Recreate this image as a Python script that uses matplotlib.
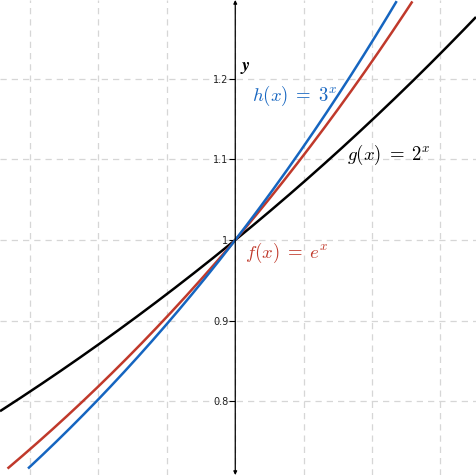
import numpy as np
import matplotlib
matplotlib.use('Agg')
import matplotlib.pyplot as plt

plt.rcParams['mathtext.fontset'] = 'cm'

# view window (GeoGebra-like)
x_min, x_max = -0.344, 0.352
y_min, y_max = 0.7088, 1.2974

# y tick values and labels
y_ticks = [0.8, 0.9, 1.0, 1.1, 1.2]
y_tick_labels = ['0.8', '0.9', '1', '1.1', '1.2']
x_grid = [-0.3, -0.2, -0.1, 0.0, 0.1, 0.2, 0.3]

# bases of the three exponential functions, domain of each drawn curve
bases = [2.0, np.e, 3.0]
domains = [(-0.344, 0.352), (-0.333, 0.259), (-0.303, 0.236)]
colors = ['black', '#C0392B', '#1565C0']
labels = [r'$g(x)\;=\;2^x$', r'$f(x)\;=\;e^x$', r'$h(x)\;=\;3^x$']
label_pos = [(0.164, 1.105), (0.014, 0.984), (0.024, 1.178)]

fig = plt.figure(figsize=(4.76, 4.75), dpi=100)
ax = fig.add_axes([0, 0, 1, 1])

for b, (a, c), col in zip(bases, domains, colors):
    xs = np.linspace(a, c, 300)
    ax.plot(xs, b ** xs, color=col, lw=1.8, solid_capstyle='butt', zorder=3)

for (tx, ty), lab, col in zip(label_pos, labels, colors):
    ax.text(tx, ty, lab, color=col, fontsize=13.5, ha='left', va='center')

ax.set_xlim(x_min, x_max)
ax.set_ylim(y_min, y_max)

# grid
ax.set_xticks(x_grid)
ax.set_yticks(y_ticks)
ax.set_yticklabels(y_tick_labels)
ax.grid(True, color='#d6d6d6', lw=0.9, linestyle=(0, (5, 4)))
ax.tick_params(axis='x', length=0, labelbottom=False)
ax.tick_params(axis='y', length=4, width=0.8, labelsize=7, pad=1,
               labelcolor='#222222')

for s in ['top', 'right', 'bottom']:
    ax.spines[s].set_visible(False)
ax.spines['left'].set_position(('data', 0))
ax.spines['left'].set_visible(False)

# y axis with arrows at both ends
ax.annotate('', xy=(0, y_max), xytext=(0, y_min),
            arrowprops=dict(arrowstyle='<|-|>', lw=0.9, color='black',
                            mutation_scale=5, shrinkA=0, shrinkB=0))
ax.text(0.007, 1.214, r'$\boldsymbol{y}$', fontsize=13, ha='left', va='center')

fig.savefig('out.png', dpi=100)
